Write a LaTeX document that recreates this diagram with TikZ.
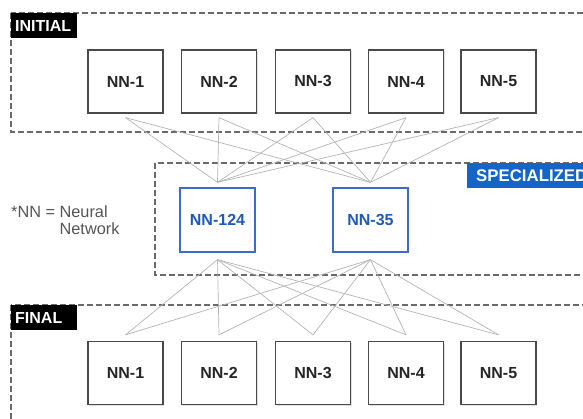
\documentclass[tikz,border=0pt]{standalone}
\usepackage{fontspec}
\setmainfont{Liberation Sans}
\usetikzlibrary{shadows}
\definecolor{boxborder}{HTML}{4A4A4A}
\definecolor{boxtext}{HTML}{262626}
\definecolor{bluebd}{HTML}{3A6CCB}
\definecolor{bluetx}{HTML}{1E5BB8}
\definecolor{bluefill}{HTML}{1565C8}
\definecolor{dashc}{HTML}{6A6A6A}
\definecolor{linkc}{HTML}{B4B4B4}
\definecolor{notec}{HTML}{555555}
\tikzset{
  nnbox/.style={draw=boxborder, line width=1.3pt, fill=white, minimum width=75pt,
    minimum height=63pt, inner sep=0pt, font=\fontsize{16}{18}\selectfont\bfseries,
    text=boxtext, drop shadow={opacity=0.25, shadow xshift=1pt, shadow yshift=-1pt}},
  spbox/.style={nnbox, draw=bluebd, text=bluetx, minimum height=64pt},
  groupbox/.style={draw=dashc, line width=1.2pt, dash pattern=on 6pt off 3pt},
  tag/.style={fill=black, text=white, font=\fontsize{16}{18}\selectfont\bfseries,
    anchor=north west, minimum height=25pt, inner xsep=4pt, inner ysep=0pt,
    text width=58pt, align=left},
  link/.style={draw=linkc, line width=0.7pt},
}
\begin{document}
\begin{tikzpicture}[x=1pt,y=-1pt]
\useasboundingbox (0,0) rectangle (583,419);
\clip (0,0) rectangle (583,419);
% group frames
\draw[groupbox] (11,13) rectangle (610,132);
\draw[groupbox] (155,163) rectangle (610,275);
\draw[groupbox] (11,305) rectangle (610,440);
% nodes
\foreach \i/\x in {1/125.5,2/219,3/313,4/406,5/498.5}{
  \node[nnbox] (t\i) at (\x,81.5) {NN-\i};
  \node[nnbox] (b\i) at (\x,373) {NN-\i};
  \coordinate (t\i o) at ([yshift=-4pt]t\i.south);
  \coordinate (b\i o) at ([yshift=6pt]b\i.north);
}
\node[spbox] (m1) at (217.5,220) {NN-124};
\node[spbox] (m2) at (370.5,220) {NN-35};
\coordinate (m1t) at ([yshift=5pt]m1.north);
\coordinate (m2t) at ([yshift=5pt]m2.north);
\coordinate (m1b) at ([yshift=-7pt]m1.south);
\coordinate (m2b) at ([yshift=-7pt]m2.south);
% links
\foreach \i in {1,...,5}{
  \draw[link] (t\i o) -- (m1t);
  \draw[link] (t\i o) -- (m2t);
  \draw[link] (m1b) -- (b\i o);
  \draw[link] (m2b) -- (b\i o);
}
% tags
\node[tag] (tinit) at (11,13) {INITIAL};
\node[tag] (tfinal) at (11,305) {FINAL};
\node[tag, fill=bluefill, inner xsep=9pt, text width=140pt,
  font=\fontsize{16.8}{18}\selectfont\bfseries] (tspec) at (467,163) {SPECIALIZED};
% note
\node[anchor=base west, inner sep=0pt, text=notec, font=\fontsize{16.3}{16}\selectfont] (note) at (11,218)
  {*NN = \begin{tabular}[t]{@{}l@{}}Neural\\Network\end{tabular}};
\end{tikzpicture}
\end{document}
